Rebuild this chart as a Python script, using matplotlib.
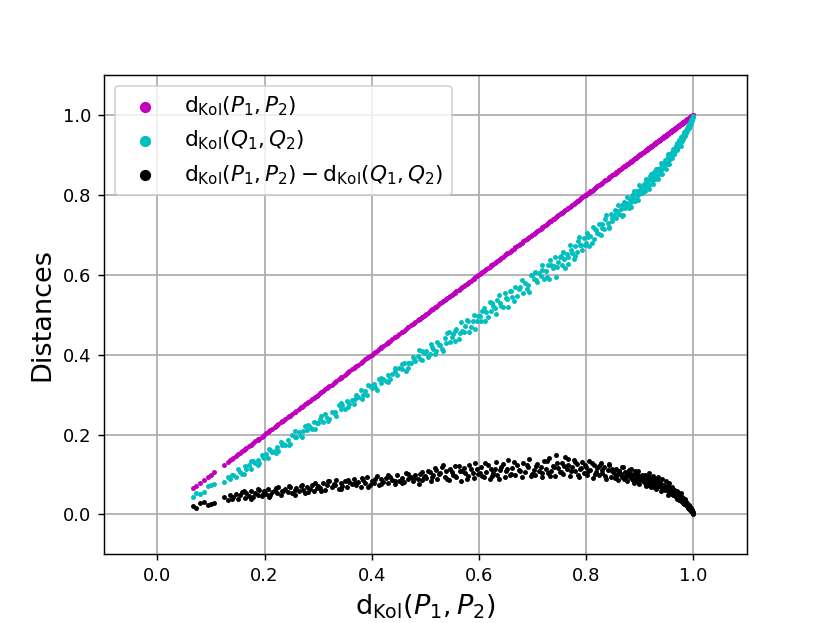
import numpy as np
import matplotlib
matplotlib.use("Agg")
import matplotlib.pyplot as plt

# d_Kol(P1, P2) values (x axis)
d_p = [
    0.066, 0.072, 0.080, 0.087, 0.094, 0.100, 0.106, 0.125, 0.131, 0.136, 0.140,
    0.142, 0.147, 0.151, 0.155, 0.158, 0.163, 0.166, 0.171, 0.175, 0.178,
    0.183, 0.187, 0.190, 0.195, 0.199, 0.203, 0.206, 0.211, 0.214, 0.219,
    0.223, 0.226, 0.231, 0.235, 0.238, 0.243, 0.247, 0.251, 0.256, 0.259,
    0.264, 0.268, 0.271, 0.276, 0.280, 0.284, 0.289, 0.292, 0.297, 0.300,
    0.304, 0.309, 0.313, 0.316, 0.321, 0.325, 0.329, 0.333, 0.338, 0.342,
    0.345, 0.350, 0.354, 0.358, 0.363, 0.366, 0.371, 0.375, 0.379, 0.384,
    0.388, 0.391, 0.396, 0.400, 0.404, 0.409, 0.413, 0.417, 0.421, 0.426,
    0.430, 0.434, 0.438, 0.443, 0.447, 0.451, 0.456, 0.460, 0.464, 0.468,
    0.473, 0.477, 0.481, 0.486, 0.490, 0.494, 0.499,
    0.502, 0.508, 0.511, 0.514, 0.520, 0.522, 0.528, 0.531, 0.536, 0.538,
    0.544, 0.546, 0.552, 0.555, 0.558, 0.564, 0.566, 0.572, 0.574, 0.580,
    0.582, 0.588, 0.590, 0.596, 0.598, 0.604, 0.606, 0.612, 0.614, 0.620,
    0.623, 0.626, 0.632, 0.634, 0.640, 0.642, 0.648, 0.651, 0.654, 0.660,
    0.662, 0.668, 0.671, 0.674, 0.680, 0.683, 0.686, 0.692, 0.694, 0.699,
    0.702, 0.705, 0.709, 0.712, 0.715, 0.718, 0.722, 0.725, 0.728, 0.731,
    0.735, 0.738, 0.741, 0.744, 0.748, 0.751, 0.754, 0.757, 0.761, 0.764,
    0.767, 0.770, 0.773, 0.777, 0.780, 0.783, 0.786, 0.789, 0.793, 0.796,
    0.799, 0.802, 0.805, 0.808, 0.812, 0.815, 0.818, 0.821, 0.824, 0.827,
    0.830, 0.834, 0.837, 0.840, 0.843, 0.846, 0.849,
    0.851, 0.853, 0.856, 0.858, 0.860, 0.862, 0.865, 0.867, 0.869, 0.871,
    0.873, 0.875, 0.877, 0.879, 0.881, 0.883, 0.885, 0.887, 0.889, 0.891,
    0.893, 0.895, 0.897, 0.899, 0.901, 0.903, 0.905, 0.907, 0.909, 0.911,
    0.913, 0.915, 0.917, 0.919, 0.921, 0.923, 0.925, 0.927, 0.929, 0.931,
    0.933, 0.935, 0.937, 0.939, 0.941, 0.943, 0.945, 0.947, 0.949,
    0.951, 0.952, 0.954, 0.955, 0.956, 0.958, 0.959, 0.960, 0.962, 0.963,
    0.964, 0.965, 0.967, 0.968, 0.969, 0.970, 0.971, 0.972, 0.973, 0.974,
    0.975, 0.976, 0.977, 0.978, 0.979, 0.980, 0.981, 0.982, 0.983, 0.984,
    0.985, 0.986, 0.987, 0.988, 0.989, 0.990, 0.991, 0.992, 0.993, 0.994,
    0.995, 0.996, 0.997, 0.998, 0.999, 0.9995, 1.000,
    # second pass over the cloud
    0.161, 0.174, 0.188, 0.197, 0.209, 0.221, 0.233, 0.246, 0.257, 0.269,
    0.281, 0.294, 0.306, 0.318, 0.331, 0.343, 0.356, 0.368, 0.381, 0.393,
    0.406, 0.418, 0.431, 0.443, 0.456, 0.468, 0.479, 0.488, 0.493, 0.497,
    0.505, 0.513, 0.518, 0.526, 0.533, 0.541, 0.549, 0.556, 0.562, 0.569,
    0.577, 0.585, 0.593, 0.601, 0.609, 0.617, 0.625, 0.629, 0.637, 0.645,
    0.653, 0.657, 0.665, 0.677, 0.689, 0.697, 0.707, 0.717, 0.727, 0.733,
    0.740, 0.746, 0.753, 0.759, 0.766, 0.772, 0.779, 0.785, 0.791, 0.798,
    0.804, 0.810, 0.817, 0.823, 0.829, 0.836, 0.842, 0.848, 0.855, 0.861,
    0.866, 0.872, 0.878, 0.884, 0.888, 0.892, 0.896, 0.900, 0.904, 0.908,
    0.910, 0.912, 0.914, 0.916, 0.918, 0.920, 0.922, 0.924, 0.926, 0.928,
    0.930, 0.932, 0.934, 0.936, 0.938, 0.940, 0.942, 0.944, 0.946, 0.948,
    0.950, 0.953, 0.955, 0.957, 0.958, 0.961, 0.962, 0.964, 0.966, 0.967,
    0.969, 0.970, 0.972, 0.973, 0.975, 0.976, 0.977, 0.979, 0.980, 0.981,
    0.982, 0.983, 0.985, 0.986, 0.987, 0.988, 0.989, 0.990, 0.991, 0.992,
    0.993, 0.994, 0.995, 0.996, 0.997, 0.998, 0.9985, 0.999,
]

# d_Kol(P1, P2) - d_Kol(Q1, Q2), the black cloud
d_diff = [
    0.021, 0.017, 0.028, 0.031, 0.023, 0.026, 0.030, 0.044, 0.036, 0.048, 0.040,
    0.043, 0.052, 0.038, 0.049, 0.056, 0.041, 0.053, 0.047, 0.060, 0.044,
    0.055, 0.050, 0.062, 0.046, 0.058, 0.052, 0.065, 0.049, 0.057, 0.061,
    0.054, 0.068, 0.050, 0.059, 0.063, 0.056, 0.070, 0.053, 0.061, 0.066,
    0.058, 0.072, 0.062, 0.055, 0.069, 0.064, 0.075, 0.060, 0.067, 0.071,
    0.066, 0.078, 0.061, 0.074, 0.083, 0.069, 0.076, 0.087, 0.065, 0.079,
    0.072, 0.085, 0.070, 0.081, 0.076, 0.090, 0.073, 0.082, 0.068, 0.086,
    0.079, 0.093, 0.075, 0.084, 0.078, 0.097, 0.074, 0.088, 0.082, 0.091,
    0.080, 0.095, 0.086, 0.077, 0.099, 0.084, 0.092, 0.081, 0.104, 0.088,
    0.094, 0.083, 0.098, 0.090, 0.101, 0.086, 0.096,
    0.092, 0.106, 0.085, 0.099, 0.112, 0.090, 0.103, 0.118, 0.094, 0.108,
    0.087, 0.114, 0.100, 0.121, 0.095, 0.109, 0.084, 0.116, 0.103, 0.097,
    0.125, 0.105, 0.091, 0.113, 0.101, 0.119, 0.096, 0.128, 0.107, 0.089,
    0.115, 0.104, 0.131, 0.098, 0.112, 0.120, 0.094, 0.109, 0.136, 0.102,
    0.117, 0.099, 0.125, 0.111, 0.093, 0.129, 0.106, 0.118, 0.138, 0.101,
    0.112, 0.098, 0.127, 0.108, 0.119, 0.094, 0.133, 0.115, 0.104, 0.141,
    0.110, 0.122, 0.097, 0.150, 0.117, 0.106, 0.129, 0.101, 0.145, 0.113,
    0.123, 0.096, 0.118, 0.137, 0.108, 0.126, 0.093, 0.114, 0.131, 0.104,
    0.120, 0.099, 0.134, 0.111, 0.092, 0.125, 0.107, 0.116, 0.098, 0.128,
    0.103, 0.119, 0.089, 0.112, 0.124, 0.095, 0.108,
    0.104, 0.092, 0.115, 0.098, 0.087, 0.110, 0.101, 0.094, 0.119, 0.089,
    0.106, 0.097, 0.083, 0.112, 0.095, 0.102, 0.088, 0.099, 0.079, 0.108,
    0.091, 0.085, 0.098, 0.076, 0.093, 0.087, 0.100, 0.081, 0.090, 0.074,
    0.086, 0.079, 0.094, 0.072, 0.083, 0.077, 0.089, 0.070, 0.080, 0.074,
    0.068, 0.082, 0.071, 0.076, 0.064, 0.073, 0.067, 0.061, 0.070,
    0.066, 0.058, 0.062, 0.069, 0.055, 0.060, 0.064, 0.052, 0.058, 0.061,
    0.050, 0.055, 0.053, 0.047, 0.051, 0.049, 0.044, 0.048, 0.042, 0.046,
    0.041, 0.044, 0.038, 0.041, 0.036, 0.039, 0.034, 0.036, 0.032, 0.033,
    0.029, 0.031, 0.027, 0.028, 0.024, 0.025, 0.021, 0.022, 0.018, 0.017,
    0.014, 0.013, 0.010, 0.008, 0.005, 0.004, 0.002,
    # second pass over the cloud
    0.060, 0.040, 0.064, 0.052, 0.045, 0.066, 0.058, 0.071, 0.048, 0.075,
    0.057, 0.080, 0.060, 0.083, 0.074, 0.064, 0.086, 0.078, 0.091, 0.070,
    0.088, 0.076, 0.099, 0.085, 0.079, 0.102, 0.091, 0.077, 0.106, 0.093,
    0.110, 0.093, 0.117, 0.101, 0.124, 0.088, 0.106, 0.096, 0.122, 0.110,
    0.090, 0.115, 0.129, 0.104, 0.093, 0.123, 0.097, 0.113, 0.089, 0.127,
    0.115, 0.098, 0.132, 0.109, 0.124, 0.097, 0.121, 0.105, 0.134, 0.096,
    0.118, 0.128, 0.107, 0.121, 0.140, 0.110, 0.132, 0.100, 0.117, 0.125,
    0.109, 0.130, 0.102, 0.121, 0.112, 0.096, 0.126, 0.115, 0.098, 0.110,
    0.120, 0.093, 0.105, 0.115, 0.086, 0.102, 0.110, 0.088, 0.097, 0.083,
    0.100, 0.072, 0.093, 0.079, 0.104, 0.068, 0.088, 0.097, 0.074, 0.090,
    0.065, 0.086, 0.094, 0.071, 0.082, 0.060, 0.089, 0.075, 0.067, 0.083,
    0.072, 0.050, 0.078, 0.063, 0.057, 0.070, 0.048, 0.062, 0.055, 0.044,
    0.058, 0.040, 0.053, 0.036, 0.047, 0.055, 0.033, 0.045, 0.030, 0.042,
    0.035, 0.026, 0.038, 0.024, 0.031, 0.020, 0.027, 0.017, 0.024, 0.014,
    0.019, 0.012, 0.016, 0.009, 0.011, 0.006, 0.004, 0.003,
]

assert len(d_p) == len(d_diff)

x = np.array(d_p)
diff = np.array(d_diff)
d_q = x - diff

fig, ax = plt.subplots(figsize=(830 / 130, 623 / 130), dpi=130)

ax.scatter(x, x, s=3, c='m', label=r'$\mathrm{d}_{\mathrm{Kol}}(P_1,P_2)$')
ax.scatter(x, d_q, s=3, c='c', label=r'$\mathrm{d}_{\mathrm{Kol}}(Q_1,Q_2)$')
ax.scatter(x, diff, s=3, c='k',
           label=r'$\mathrm{d}_{\mathrm{Kol}}(P_1,P_2)-\mathrm{d}_{\mathrm{Kol}}(Q_1,Q_2)$')

ax.set_xlim(-0.1, 1.1)
ax.set_ylim(-0.1, 1.1)
ax.set_xticks([0.0, 0.2, 0.4, 0.6, 0.8, 1.0])
ax.set_yticks([0.0, 0.2, 0.4, 0.6, 0.8, 1.0])
ax.grid(True, linewidth=1.0, color='#b0b0b0')
ax.set_axisbelow(True)

ax.set_xlabel(r'$\mathrm{d}_{\mathrm{Kol}}(P_1,P_2)$', fontsize=15)
ax.set_ylabel('Distances', fontsize=15)
ax.legend(loc='upper left', fontsize=12, markerscale=3)

fig.savefig('out.png', dpi=130)
